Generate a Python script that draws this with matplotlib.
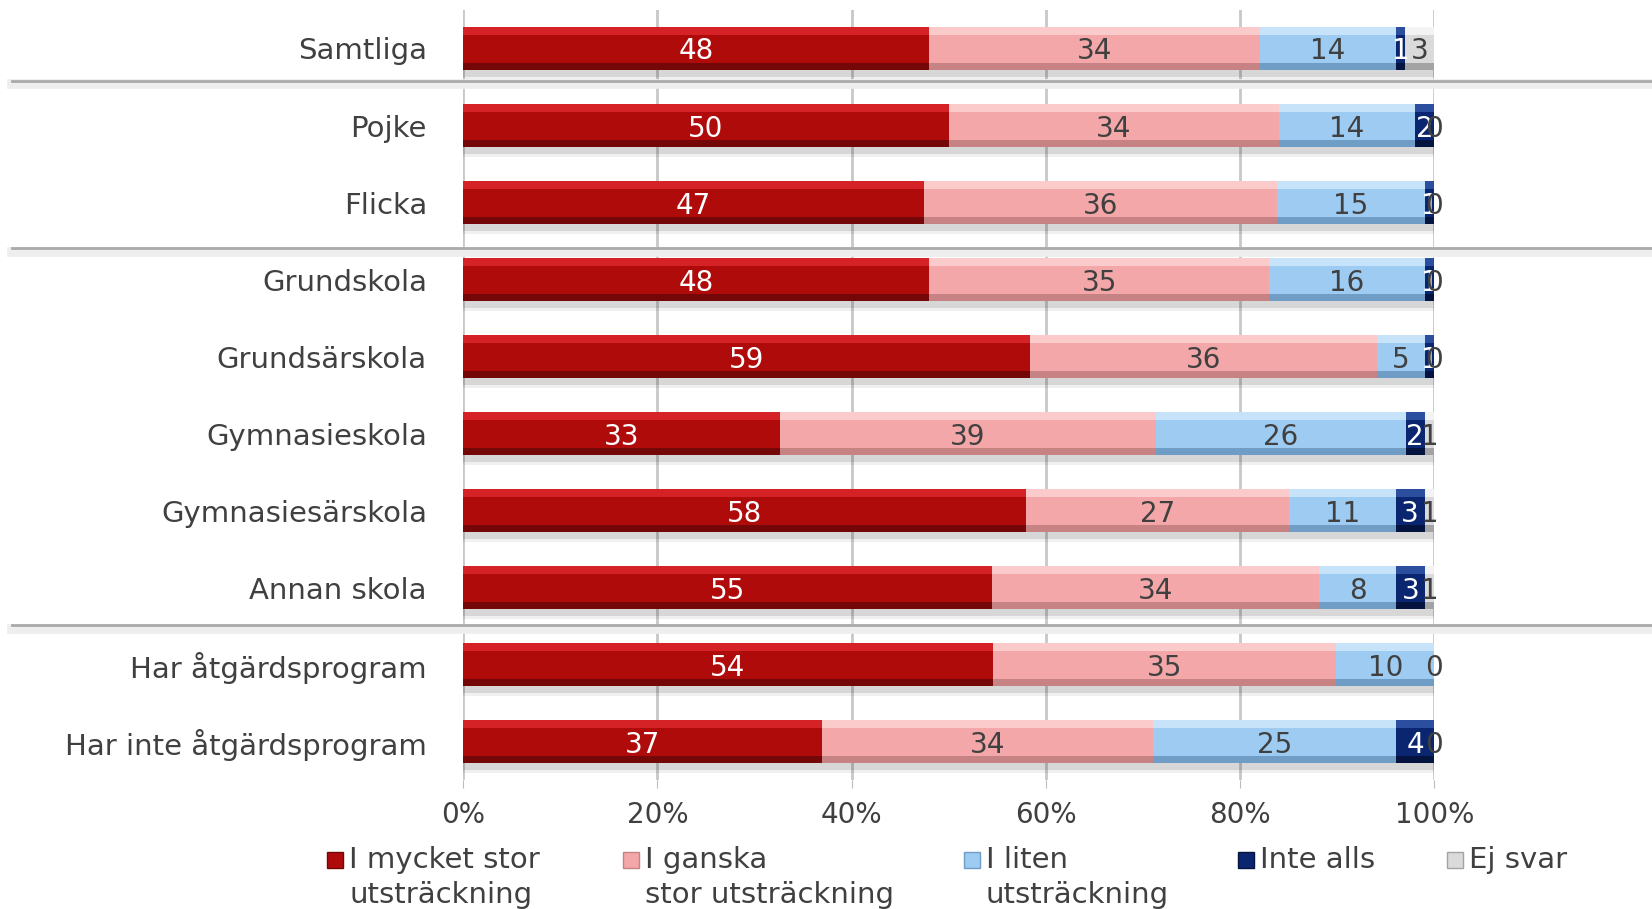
import numpy as np
import matplotlib.pyplot as plt
from matplotlib.patches import Rectangle
from matplotlib.lines import Line2D

categories = ['Samtliga', 'Pojke', 'Flicka', 'Grundskola', 'Grundsärskola',
              'Gymnasieskola', 'Gymnasiesärskola', 'Annan skola',
              'Har åtgärdsprogram', 'Har inte åtgärdsprogram']

series_names = ['I mycket stor\nutsträckning', 'I ganska\nstor utsträckning',
                'I liten\nutsträckning', 'Inte alls', 'Ej svar']

mycket_stor = [48, 50, 47, 48, 59, 33, 58, 55, 54, 37]
ganska_stor = [34, 34, 36, 35, 36, 39, 27, 34, 35, 34]
liten = [14, 14, 15, 16, 5, 26, 11, 8, 10, 25]
inte_alls = [1, 2, 1, 1, 1, 2, 3, 3, 0, 4]
ej_svar = [3, 0, 0, 0, 0, 1, 1, 1, 0, 0]

tick_labels = ['0%', '20%', '40%', '60%', '80%', '100%']

# face, highlight, shade, label colour
styles = [
    ('#B00B0B', '#D42226', '#740808', 'white'),
    ('#F4A7A9', '#FBCBCC', '#C78284', '#404040'),
    ('#9DCBF2', '#C7E3FA', '#6F9DC6', '#404040'),
    ('#0B2670', '#2B4F9E', '#05143F', 'white'),
    ('#DADADA', '#F3F3F3', '#A3A3A3', '#404040'),
]

values = np.array([mycket_stor, ganska_stor, liten, inte_alls, ej_svar], dtype=float)
shares = values / values.sum(axis=0) * 100  # 100% stacked

fig = plt.figure(figsize=(16.52, 9.09), dpi=100)
ax = fig.add_axes([0.2803, 0.1419, 0.5880, 0.8471])

y = np.arange(len(categories))
h = 0.57

# soft shadow under each bar
ax.barh(y + 0.09, shares.sum(axis=0), height=h, left=0, color='#000000',
        alpha=0.10, zorder=2)
ax.barh(y + 0.13, shares.sum(axis=0), height=h, left=0, color='#000000',
        alpha=0.06, zorder=2)

left = np.zeros(len(categories))
for k in range(len(series_names)):
    face, light, dark, tc = styles[k]
    w = shares[k]
    ax.barh(y, w, height=h, left=left, color=face, zorder=3)
    # bevel: light top strip, dark bottom strip
    ax.barh(y - h * 0.40, w, height=h * 0.20, left=left, color=light, zorder=4)
    ax.barh(y + h * 0.42, w, height=h * 0.16, left=left, color=dark, zorder=4)
    for i in range(len(categories)):
        ax.text(left[i] + w[i] / 2, y[i], f'{values[k, i]:.0f}', ha='center',
                va='center_baseline', fontsize=20, color=tc, zorder=6)
    left += w

ax.set_xlim(0, 100)
ax.set_ylim(len(categories) - 0.5, -0.5)
ax.set_xticks(np.arange(0, 101, 20))
ax.set_xticklabels(tick_labels, fontsize=20, color='#404040')
ax.set_yticks(y)
ax.set_yticklabels(categories, fontsize=21, color='#404040')
ax.tick_params(axis='y', length=0, pad=26)
ax.tick_params(axis='x', length=6, color='#BBBBBB', pad=9)
ax.xaxis.grid(True, color='#C8C8C8', linewidth=2)
ax.set_axisbelow(True)
for s in ax.spines.values():
    s.set_visible(False)

# group separators spanning the whole figure
for sep in [0.42, 2.59, 7.49]:
    ypix = ax.transData.transform((0, sep))[1]
    yf = fig.transFigure.inverted().transform((0, ypix))[1]
    for off, col, lw in [(0.004, '#EEEEEE', 7), (0.0, '#AAAAAA', 2)]:
        fig.add_artist(Line2D([0.007, 1.0], [yf - off, yf - off], color=col,
                              linewidth=lw, zorder=1))

# legend
marker_x = [327, 623, 964, 1238, 1447]
for k, name in enumerate(series_names):
    face, light, dark, tc = styles[k]
    x0 = marker_x[k] / 1652
    fig.add_artist(Rectangle((x0, 1 - 868 / 909), 16 / 1652, 16 / 909,
                             transform=fig.transFigure, facecolor=face,
                             edgecolor=dark, linewidth=1))
    fig.text(x0 + 22 / 1652, 1 - 846 / 909, name, ha='left', va='top',
             fontsize=21, color='#404040', linespacing=1.3)

fig.savefig('out.png', dpi=100)
